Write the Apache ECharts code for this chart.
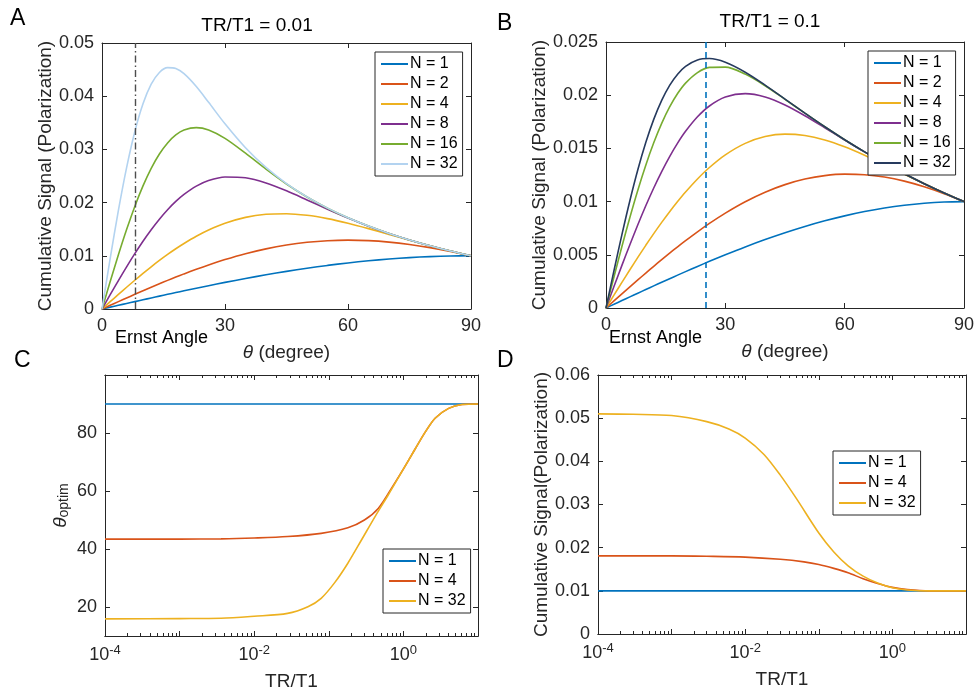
<!DOCTYPE html>
<html>
<head>
<meta charset="utf-8">
<title>Cumulative signal vs flip angle</title>
<script src="https://cdn.jsdelivr.net/npm/echarts@6/dist/echarts.min.js"></script>
<style>
  html, body { margin: 0; padding: 0; background: #fff; }
  #chart { width: 974px; height: 694px; }
</style>
</head>
<body>
<div id="chart"></div>
<script>
// flip angle (degree), panels A and B
var theta = [0, 2, 4, 6, 8, 10, 12, 14, 16, 18, 20, 23, 26, 30, 35, 40, 45, 50, 55, 60, 65, 70, 75, 80, 85, 90]

// panel A, TR/T1 = 0.01
var a_n1 = [0, .000349, .000698, .001045, .001392, .001737, .002079, .002419, .002756, .003090, .003420, .003907, .004384, .005, .005736, .006428, .007071, .007660, .008192, .008660, .009063, .009397, .009659, .009848, .009962, .01]
var a_n2 = [0, .000694, .001387, .002074, .002756, .003430, .004092, .004743, .005380, .006000, .006602, .007468, .008285, .009287, .010388, .011303, .012022, .012536, .012843, .012947, .012855, .012579, .012135, .011541, .010822, .01]
var a_n4 = [0, .001374, .002739, .004086, .005405, .006689, .007931, .009120, .010253, .011320, .012316, .013671, .014844, .016114, .017219, .017805, .017913, .017612, .016985, .016120, .015105, .014021, .012931, .011883, .010902, .01]
var a_n8 = [0, .002692, .005345, .007926, .010399, .012736, .014906, .016887, .018663, .020219, .021544, .023100, .024152, .024823, .024669, .023695, .022215, .020501, .018751, .017088, .015569, .014206, .012987, .011893, .010903, .01]
var a_n16 = [0, .005165, .010184, .014928, .019278, .023137, .026437, .029137, .031222, .032712, .033634, .034093, .033647, .032074, .029285, .026289, .023497, .021052, .018954, .017150, .015583, .014208, .012987, .011893, .010903, .01]
var a_n32 = [0, .009524, .018528, .026578, .033327, .038571, .042257, .044465, .045362, .045201, .044227, .041812, .038847, .034810, .030311, .026604, .023576, .021068, .018956, .017150, .015583, .014208, .012987, .011893, .010903, .01]
var ernstA = 8.1

// panel B, TR/T1 = 0.1
var b_n1 = [0, .000349, .000698, .001045, .001392, .001737, .002079, .002419, .002756, .003090, .003420, .003907, .004384, .005, .005736, .006428, .007071, .007660, .008192, .008660, .009063, .009397, .009659, .009848, .009962, .01]
var b_n2 = [0, .000665, .001327, .001986, .002639, .003284, .003919, .004543, .005154, .005749, .006328, .007162, .007949, .008918, .009988, .010884, .011595, .012116, .012443, .012578, .012529, .012305, .011922, .011395, .010748, .01]
var b_n4 = [0, .001208, .002409, .003594, .004758, .005891, .006989, .008045, .009053, .010007, .010904, .012130, .013206, .014394, .015474, .016113, .016342, .016215, .015795, .015153, .014361, .013484, .012575, .011677, .010814, .01]
var b_n8 = [0, .002016, .004008, .005951, .007824, .009606, .011278, .012824, .014234, .015495, .016603, .017968, .018983, .019822, .020145, .019833, .019081, .018070, .016941, .015788, .014668, .013607, .012613, .011684, .010815, .01]
var b_n16 = [0, .002917, .005773, .008510, .011076, .013424, .015524, .017352, .018896, .020156, .021138, .022129, .022615, .022640, .021981, .020890, .019616, .018307, .017031, .015816, .014675, .013608, .012613, .011684, .010815, .01]
var b_n32 = [0, .003501, .006894, .010083, .012988, .015546, .017725, .019515, .020924, .021979, .022715, .023315, .023443, .023097, .022163, .020950, .019632, .018310, .017031, .015816, .014675, .013608, .012613, .011684, .010815, .01]
var ernstB = 25.2

// panel C, optimal flip angle vs TR/T1
var c_x_n1 = [0.0001, 10]
var c_n1 = [90, 90]
var c_x_n4 = [0.0001, 0.001, 0.0036, 0.01, 0.028, 0.079, 0.18, 0.30, 0.46, 0.695, 1.05, 1.43, 1.95, 2.66, 4.04, 6.1, 10]
var c_n4 = [43.4, 43.4, 43.5, 43.8, 44.3, 45.4, 47.3, 50.0, 54.0, 61.0, 68.5, 74.4, 80.2, 85.1, 88.5, 89.8, 90]
var c_x_n32 = [0.0001, 0.001, 0.0036, 0.01, 0.028, 0.0525, 0.079, 0.12, 0.18, 0.274, 0.415, 0.628, 0.771, 1.05, 1.43, 1.95, 2.66, 4.04, 6.1, 10]
var c_n32 = [15.9, 16.0, 16.1, 16.8, 17.8, 20.1, 23.0, 28.4, 35.1, 43.1, 51.1, 58.7, 62.6, 68.5, 74.4, 80.2, 85.1, 88.5, 89.8, 90]

// panel D, maximum cumulative signal vs TR/T1
var d_x_n1 = [0.0001, 10]
var d_n1 = [0.01, 0.01]
var d_x_n4 = [0.0001, 0.001, 0.003, 0.01, 0.03, 0.063, 0.1, 0.16, 0.25, 0.4, 0.63, 1, 1.6, 3.2, 10]
var d_n4 = [0.0181, 0.0181, 0.0180, 0.0178, 0.0173, 0.0167, 0.0161, 0.0152, 0.0142, 0.0128, 0.0117, 0.0108, 0.0103, 0.0100, 0.0100]
var d_x_n32 = [0.0001, 0.0003, 0.001, 0.003, 0.006, 0.01, 0.018, 0.03, 0.05, 0.1, 0.16, 0.25, 0.4, 0.63, 1, 1.6, 3.2, 10]
var d_n32 = [0.0510, 0.0509, 0.0506, 0.0492, 0.0475, 0.0454, 0.0416, 0.0368, 0.0313, 0.0234, 0.0190, 0.0158, 0.0134, 0.0118, 0.0107, 0.0102, 0.0100, 0.0100]

var logMajor = [0.0001, 0.001, 0.01, 0.1, 1, 10]
var logLabels = [0.0001, 0.01, 1]

var FONT = 'Liberation Sans'
var INK = '#262626'
var BLUE = '#0072BD', RED = '#D95319', YELLOW = '#EDB120', PURPLE = '#7E2F8E', GREEN = '#77AC30'
var LIGHT = '#B3D3F0', NAVY = '#263A5E'

var logMinor = []
for (var e = -4; e < 1; e++) {
    for (var k = 2; k <= 9; k++) logMinor.push(k * Math.pow(10, e))
}

var pairs = function(xs, ys) {
    return xs.map(function(x, i) { return [x, ys[i]] })
}

var grids = [
    {left: 102, top: 43, width: 369, height: 266},
    {left: 606, top: 42, width: 358, height: 266},
    {left: 105, top: 375, width: 373, height: 261},
    {left: 598, top: 375, width: 368, height: 259}
]

var tickFont = {fontFamily: FONT, fontSize: 18, color: INK}
var nameFont = {fontFamily: FONT, fontSize: 19, color: INK}

// one axis of the boxed frame; only the main ones carry labels
var frameAxis = function(grid, pos, base, labels, tickLen) {
    var ax = Object.assign({
        gridIndex: grid,
        position: pos,
        axisLine: {show: true, onZero: false, lineStyle: {color: INK, width: 1}},
        axisTick: {show: true, inside: true, length: tickLen || 5, lineStyle: {color: INK, width: 1}},
        axisLabel: Object.assign({show: labels, margin: 8}, tickFont),
        splitLine: {show: false}
    }, base)
    if (base.tickValues) {
        ax.axisTick.customValues = base.tickValues
        delete ax.tickValues
    }
    if (base.labelValues) {
        ax.axisLabel.customValues = base.labelValues
        delete ax.labelValues
    }
    if (base.labelFormatter) {
        ax.axisLabel.formatter = base.labelFormatter
        ax.axisLabel.rich = base.labelRich
        delete ax.labelFormatter
        delete ax.labelRich
    }
    if (!labels) {
        delete ax.name
    }
    return ax
}

var thetaName = {
    name: '{i|θ} (degree)',
    nameLocation: 'middle',
    nameGap: 34,
    nameTextStyle: Object.assign({rich: {i: {fontStyle: 'italic', fontFamily: FONT, fontSize: 19, color: INK}}}, nameFont)
}
var trName = {name: 'TR/T1', nameLocation: 'middle', nameGap: 36, nameTextStyle: nameFont}

var logFmt = function(v) {
    return '10{sup|' + Math.round(Math.log10(v)) + '}'
}
var logRich = {sup: {fontFamily: FONT, fontSize: 13, color: INK, padding: [0, 0, 10, 0]}}

var xA = Object.assign({type: 'value', min: 0, max: 90, interval: 30}, thetaName)
var xB = Object.assign({type: 'value', min: 0, max: 90, interval: 30}, thetaName)
var logBase = function(major) {
    return Object.assign({type: 'log', logBase: 10, min: 0.0001, max: 10,
        tickValues: major ? logMajor : logMinor, labelValues: logLabels,
        labelFormatter: logFmt, labelRich: logRich}, trName)
}

var xAxes = [
    frameAxis(0, 'bottom', xA, true),
    frameAxis(0, 'top', xA, false),
    frameAxis(1, 'bottom', xB, true),
    frameAxis(1, 'top', xB, false),
    frameAxis(2, 'bottom', logBase(true), true, 5),
    frameAxis(2, 'bottom', logBase(false), false, 3),
    frameAxis(2, 'top', logBase(true), false, 5),
    frameAxis(2, 'top', logBase(false), false, 3),
    frameAxis(3, 'bottom', logBase(true), true, 5),
    frameAxis(3, 'bottom', logBase(false), false, 3),
    frameAxis(3, 'top', logBase(true), false, 5),
    frameAxis(3, 'top', logBase(false), false, 3)
]

var sigName = function(gap, text) {
    return {name: text, nameLocation: 'middle', nameGap: gap, nameTextStyle: nameFont}
}
var yA = Object.assign({type: 'value', min: 0, max: 0.05, interval: 0.01}, sigName(44, 'Cumulative Signal (Polarization)'))
var yB = Object.assign({type: 'value', min: 0, max: 0.025, interval: 0.005}, sigName(56, 'Cumulative Signal (Polarization)'))
var yC = Object.assign({type: 'value', min: 10, max: 100, interval: 10,
    tickValues: [20, 40, 60, 80], labelValues: [20, 40, 60, 80],
    name: '{i|θ}{sub|optim}', nameLocation: 'middle', nameGap: 34,
    nameTextStyle: Object.assign({rich: {
        i: {fontStyle: 'italic', fontFamily: FONT, fontSize: 19, color: INK, lineHeight: 20, verticalAlign: 'top'},
        sub: {fontFamily: FONT, fontSize: 14, color: INK, lineHeight: 14, padding: [10, 0, 0, 0], verticalAlign: 'bottom'}
    }}, nameFont)})
var yD = Object.assign({type: 'value', min: 0, max: 0.06, interval: 0.01}, sigName(46, 'Cumulative Signal(Polarization)'))

var yAxes = [
    frameAxis(0, 'left', yA, true),
    frameAxis(0, 'right', yA, false),
    frameAxis(1, 'left', yB, true),
    frameAxis(1, 'right', yB, false),
    frameAxis(2, 'left', yC, true),
    frameAxis(2, 'right', yC, false),
    frameAxis(3, 'left', yD, true),
    frameAxis(3, 'right', yD, false)
]

var line = function(name, color, xi, yi, data) {
    return {
        name: name, type: 'line', xAxisIndex: xi, yAxisIndex: yi,
        data: data, showSymbol: false, smooth: 0.3, silent: true,
        lineStyle: {color: color, width: 1.6}, itemStyle: {color: color}
    }
}

var series = [
    line('A:N = 1', BLUE, 0, 0, pairs(theta, a_n1)),
    line('A:N = 2', RED, 0, 0, pairs(theta, a_n2)),
    line('A:N = 4', YELLOW, 0, 0, pairs(theta, a_n4)),
    line('A:N = 8', PURPLE, 0, 0, pairs(theta, a_n8)),
    line('A:N = 16', GREEN, 0, 0, pairs(theta, a_n16)),
    line('A:N = 32', LIGHT, 0, 0, pairs(theta, a_n32)),
    line('B:N = 1', BLUE, 2, 2, pairs(theta, b_n1)),
    line('B:N = 2', RED, 2, 2, pairs(theta, b_n2)),
    line('B:N = 4', YELLOW, 2, 2, pairs(theta, b_n4)),
    line('B:N = 8', PURPLE, 2, 2, pairs(theta, b_n8)),
    line('B:N = 16', GREEN, 2, 2, pairs(theta, b_n16)),
    line('B:N = 32', NAVY, 2, 2, pairs(theta, b_n32)),
    line('C:N = 1', BLUE, 4, 4, pairs(c_x_n1, c_n1)),
    line('C:N = 4', RED, 4, 4, pairs(c_x_n4, c_n4)),
    line('C:N = 32', YELLOW, 4, 4, pairs(c_x_n32, c_n32)),
    line('D:N = 1', BLUE, 8, 6, pairs(d_x_n1, d_n1)),
    line('D:N = 4', RED, 8, 6, pairs(d_x_n4, d_n4)),
    line('D:N = 32', YELLOW, 8, 6, pairs(d_x_n32, d_n32))
]

// Ernst angle markers
series[0].markLine = {silent: true, symbol: 'none', label: {show: false},
    lineStyle: {color: '#4d4d4d', width: 1.4, type: [7, 3, 1.5, 3]}, data: [{xAxis: ernstA}]}
series[6].markLine = {silent: true, symbol: 'none', label: {show: false},
    lineStyle: {color: BLUE, width: 1.6, type: [6, 4]}, data: [{xAxis: ernstB}]}

var legendNames = function(p, ns) {
    return ns.map(function(n) { return p + ':N = ' + n })
}
var legend = function(left, top, names) {
    return {
        left: left, top: top, orient: 'vertical', data: names,
        icon: 'rect', itemWidth: 27, itemHeight: 2, itemGap: 4,
        padding: [4, 5, 4, 6], borderColor: INK, borderWidth: 1, borderRadius: 0,
        backgroundColor: '#fff', selectedMode: false,
        formatter: function(n) { return n.split(':')[1] },
        textStyle: {fontFamily: FONT, fontSize: 16, color: '#000', padding: [0, 0, 0, -3]}
    }
}

var txt = function(x, y, s, size, align) {
    return {type: 'text', x: x, y: y, style: {text: s, fontFamily: FONT, fontSize: size, fill: '#000',
        textAlign: align || 'left', textVerticalAlign: 'middle'}}
}

var option = {
    animation: false,
    backgroundColor: '#fff',
    grid: grids.map(function(g) { return Object.assign({containLabel: false, outerBoundsMode: 'none'}, g) }),
    xAxis: xAxes,
    yAxis: yAxes,
    legend: [
        legend(375, 52, legendNames('A', [1, 2, 4, 8, 16, 32])),
        legend(868, 51, legendNames('B', [1, 2, 4, 8, 16, 32])),
        legend(383, 549, legendNames('C', [1, 4, 32])),
        legend(833, 451, legendNames('D', [1, 4, 32]))
    ],
    graphic: [
        txt(10, 19, 'A', 23),
        txt(497, 24, 'B', 23),
        txt(14, 361, 'C', 23),
        txt(497, 361, 'D', 23),
        txt(257, 26, 'TR/T1 = 0.01', 19, 'center'),
        txt(770, 22, 'TR/T1 = 0.1', 19, 'center'),
        txt(115, 338, 'Ernst Angle', 18),
        txt(609, 338, 'Ernst Angle', 18)
    ],
    series: series
}

var chart = echarts.init(document.getElementById('chart'))
chart.setOption(option)
</script>
</body>
</html>
